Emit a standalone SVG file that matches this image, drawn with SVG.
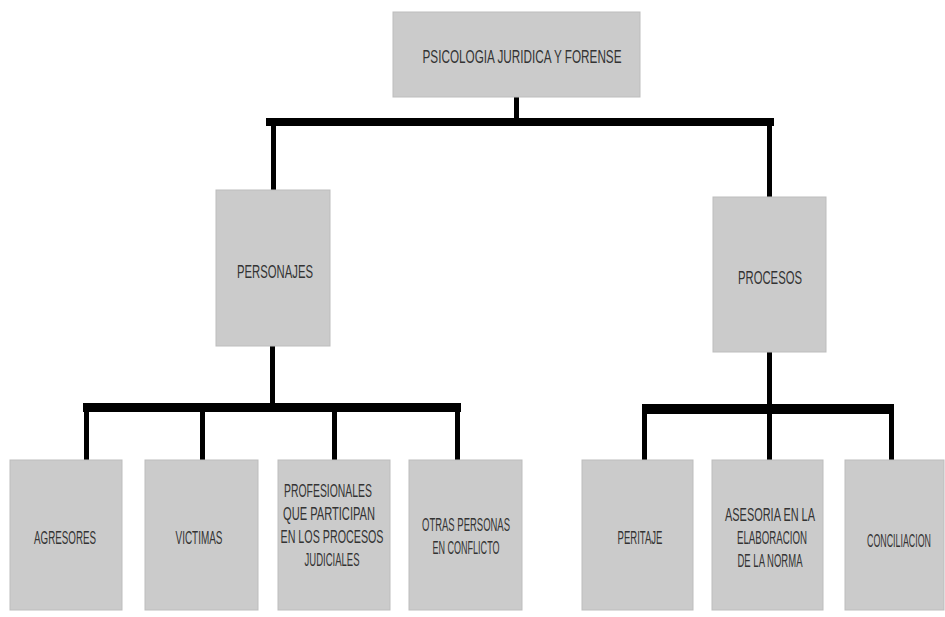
<svg xmlns="http://www.w3.org/2000/svg" width="945" height="617" viewBox="0 0 945 617">
<style>
.box{fill:#cbcbcb;stroke:#bdbdbd;stroke-width:1}
.t{font-family:"Liberation Sans","DejaVu Sans",sans-serif;font-size:19px;fill:#333;text-anchor:middle}
.bar{fill:#000}
</style>
<rect width="945" height="617" fill="#fff"/>
<g id="connectors">
  <rect class="bar" x="514" y="97" width="5" height="25"/>
  <rect class="bar" x="266" y="118" width="508" height="8"/>
  <rect class="bar" x="271" y="122" width="5" height="68"/>
  <rect class="bar" x="767" y="122" width="5" height="75"/>
  <rect class="bar" x="270" y="345" width="5" height="60"/>
  <rect class="bar" x="83" y="403" width="378" height="9"/>
  <rect class="bar" x="84" y="408" width="5" height="53"/>
  <rect class="bar" x="200" y="408" width="5" height="53"/>
  <rect class="bar" x="332" y="408" width="5" height="53"/>
  <rect class="bar" x="455" y="408" width="5" height="53"/>
  <rect class="bar" x="767" y="352" width="5" height="55"/>
  <rect class="bar" x="642" y="404" width="252" height="10"/>
  <rect class="bar" x="642" y="410" width="5" height="51"/>
  <rect class="bar" x="767" y="410" width="5" height="51"/>
  <rect class="bar" x="889" y="410" width="5" height="51"/>
</g>
<g id="root">
  <rect class="box" x="393" y="12" width="247" height="85"/>
  <text class="t" transform="translate(522,63) scale(0.5,1)" textLength="398" lengthAdjust="spacingAndGlyphs">PSICOLOGIA JURIDICA  Y FORENSE</text>
</g>
<g id="personajes">
  <rect class="box" x="216" y="190" width="114" height="156"/>
  <text class="t" transform="translate(275,278) scale(0.5,1)" textLength="152" lengthAdjust="spacingAndGlyphs">PERSONAJES</text>
</g>
<g id="procesos">
  <rect class="box" x="713" y="197" width="113" height="155"/>
  <text class="t" transform="translate(770,284) scale(0.5,1)" textLength="128" lengthAdjust="spacingAndGlyphs">PROCESOS</text>
</g>
<g id="agresores">
  <rect class="box" x="10" y="460" width="112" height="150"/>
  <text class="t" transform="translate(65,544) scale(0.5,1)" textLength="124" lengthAdjust="spacingAndGlyphs">AGRESORES</text>
</g>
<g id="victimas">
  <rect class="box" x="145" y="460" width="113" height="150"/>
  <text class="t" transform="translate(199,544) scale(0.5,1)" textLength="94" lengthAdjust="spacingAndGlyphs">VICTIMAS</text>
</g>
<g id="profesionales">
  <rect class="box" x="278" y="460" width="112" height="150"/>
  <text class="t" transform="translate(328,497) scale(0.5,1)" textLength="176" lengthAdjust="spacingAndGlyphs">PROFESIONALES</text>
  <text class="t" transform="translate(329,520) scale(0.5,1)" textLength="184" lengthAdjust="spacingAndGlyphs">QUE PARTICIPAN</text>
  <text class="t" transform="translate(332,543) scale(0.5,1)" textLength="206" lengthAdjust="spacingAndGlyphs">EN LOS PROCESOS</text>
  <text class="t" transform="translate(332,566) scale(0.5,1)" textLength="110" lengthAdjust="spacingAndGlyphs">JUDICIALES</text>
</g>
<g id="otras">
  <rect class="box" x="409" y="460" width="113" height="150"/>
  <text class="t" transform="translate(466,531) scale(0.5,1)" textLength="176" lengthAdjust="spacingAndGlyphs">OTRAS PERSONAS</text>
  <text class="t" transform="translate(466,554) scale(0.5,1)" textLength="134" lengthAdjust="spacingAndGlyphs">EN CONFLICTO</text>
</g>
<g id="peritaje">
  <rect class="box" x="582" y="460" width="111" height="150"/>
  <text class="t" transform="translate(640,544) scale(0.5,1)" textLength="90" lengthAdjust="spacingAndGlyphs">PERITAJE</text>
</g>
<g id="asesoria">
  <rect class="box" x="712" y="460" width="111" height="150"/>
  <text class="t" transform="translate(770,521) scale(0.5,1)" textLength="180" lengthAdjust="spacingAndGlyphs">ASESORIA EN LA</text>
  <text class="t" transform="translate(772,544) scale(0.5,1)" textLength="140" lengthAdjust="spacingAndGlyphs">ELABORACION</text>
  <text class="t" transform="translate(770,567) scale(0.5,1)" textLength="130" lengthAdjust="spacingAndGlyphs">DE LA NORMA</text>
</g>
<g id="conciliacion">
  <rect class="box" x="845" y="460" width="99" height="150"/>
  <text class="t" transform="translate(899,547) scale(0.5,1)" textLength="128" lengthAdjust="spacingAndGlyphs">CONCILIACION</text>
</g>
</svg>
